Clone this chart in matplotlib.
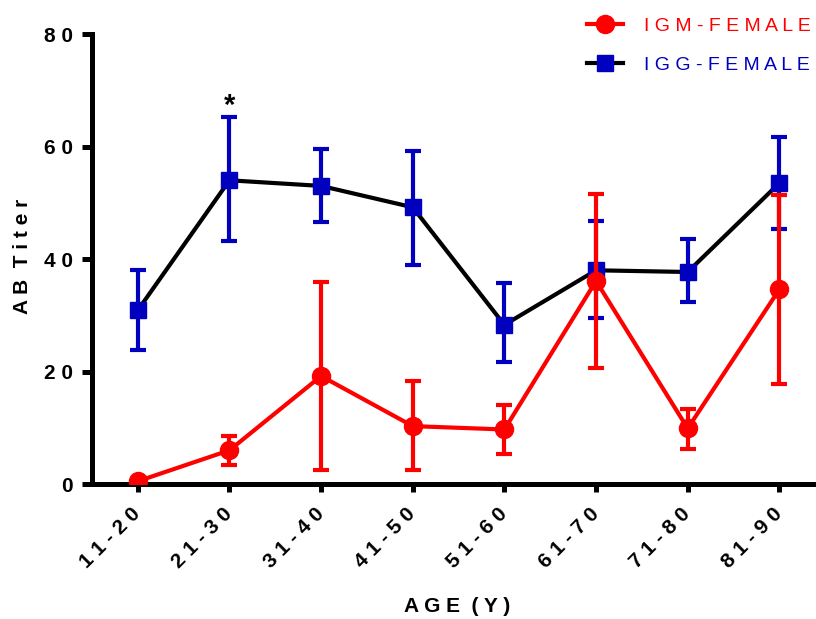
import matplotlib
matplotlib.use("Agg")
import matplotlib.pyplot as plt
import matplotlib.transforms as mtransforms
import numpy as np

ages = ["11-20", "21-30", "31-40", "41-50", "51-60", "61-70", "71-80", "81-90"]

igm_mean = [0.5, 6.0, 19.2, 10.3, 9.7, 36.1, 9.9, 34.6]
igm_upper = [0.5, 8.6, 35.9, 18.3, 14.0, 51.6, 13.3, 51.4]
igm_lower = [0.5, 3.4, 2.5, 2.5, 5.3, 20.6, 6.3, 17.8]

igg_mean = [30.9, 54.0, 53.0, 49.2, 28.3, 38.0, 37.7, 53.5]
igg_upper = [38.0, 65.2, 59.6, 59.2, 35.7, 46.8, 43.5, 61.7]
igg_lower = [23.8, 43.2, 46.6, 38.9, 21.7, 29.5, 32.3, 45.3]

y_ticks = [0, 20, 40, 60, 80]


def spaced(s):
    # letter-spaced text like the original software
    return " ".join(s)


plt.rcParams["font.family"] = ["Liberation Sans", "DejaVu Sans"]

fig = plt.figure(figsize=(8.16, 6.19), dpi=100)
ax = fig.add_axes([0.1127, 0.218, 0.8873, 0.727])

x = np.arange(len(ages))
igg_err = [np.array(igg_mean) - np.array(igg_lower), np.array(igg_upper) - np.array(igg_mean)]
igm_err = [np.array(igm_mean) - np.array(igm_lower), np.array(igm_upper) - np.array(igm_mean)]

blue = "#0000BE"
red = "#FF0000"

ax.errorbar(x, igg_mean, yerr=igg_err, fmt="none", ecolor=blue, elinewidth=3,
            capsize=6, capthick=3, zorder=2)
ax.plot(x, igg_mean, color="black", lw=3, marker="s", ms=12,
        mfc=blue, mec=blue, label="IGG-FEMALE", zorder=3)

has_err = [i for i in range(len(ages)) if igm_upper[i] > igm_mean[i]]
ax.errorbar(x[has_err], np.array(igm_mean)[has_err],
            yerr=[igm_err[0][has_err], igm_err[1][has_err]],
            fmt="none", ecolor=red, elinewidth=3, capsize=6, capthick=3, zorder=4)
ax.plot(x, igm_mean, color=red, lw=3, marker="o", ms=13,
        mfc=red, mec=red, label="IGM-FEMALE", zorder=5)

ax.text(1, 67.3, "*", ha="center", va="center", fontsize=21, fontweight="bold", color="black")

ax.set_xlim(-0.5, 7.4)
ax.set_ylim(0, 80)
ax.set_yticks(y_ticks)
ax.set_yticklabels([spaced(str(t)) for t in y_ticks], fontsize=15, fontweight="bold")
ax.set_xticks(x)
ax.set_xticklabels([spaced(a) for a in ages], rotation=45, ha="right", va="center",
                   rotation_mode="anchor", fontsize=15, fontweight="bold")
shift = mtransforms.ScaledTranslation(-3 / 72, -2 / 72, fig.dpi_scale_trans)
for lab in ax.get_xticklabels():
    lab.set_transform(lab.get_transform() + shift)

for side in ["top", "right"]:
    ax.spines[side].set_visible(False)
for side in ["left", "bottom"]:
    ax.spines[side].set_linewidth(3.6)
ax.tick_params(axis="y", width=3.6, length=7, direction="out", pad=6.5)
ax.tick_params(axis="x", width=3.6, length=5.5, direction="out", pad=14)

ax.set_ylabel("A B  T i t e r", fontsize=15, fontweight="bold")
ax.yaxis.set_label_coords(-0.083, 0.505)
ax.set_xlabel("A G E  ( Y )", fontsize=15, fontweight="bold")
ax.xaxis.set_label_coords(0.505, -0.25)

handles, labels = ax.get_legend_handles_labels()
order = [1, 0]
leg = fig.legend([handles[i] for i in order], [spaced(labels[i]) for i in order],
                 loc="upper right", bbox_to_anchor=(0.993, 0.972), frameon=False,
                 fontsize=14, handlelength=1.85, handletextpad=1.05,
                 labelspacing=1.1, borderpad=0, borderaxespad=0)
for txt, col in zip(leg.get_texts(), [red, blue]):
    txt.set_color(col)

fig.savefig("out.png", dpi=100)
